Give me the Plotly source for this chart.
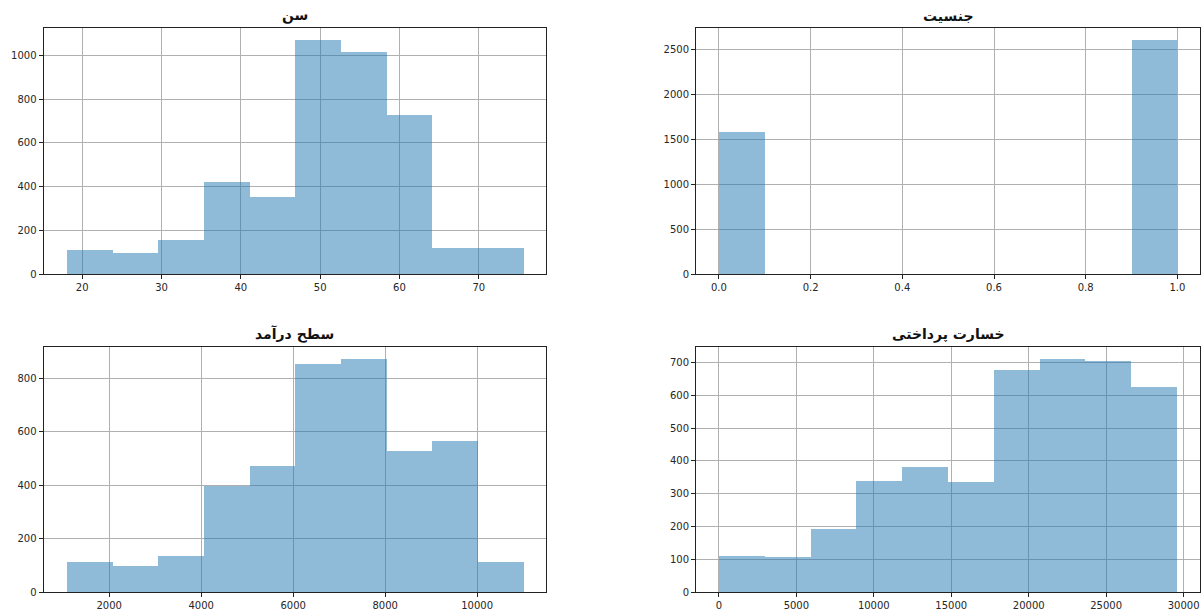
import numpy as np
import plotly.graph_objects as go

# ---- data ----
age_title = "سن"
age_counts = [110, 94, 152, 422, 353, 1071, 1015, 726, 119, 117]
age_min, age_max = 18.0, 75.6

gender_title = "جنسیت"
gender_counts = [1578, 0, 0, 0, 0, 0, 0, 0, 0, 2605]
gender_min, gender_max = 0.0, 1.0

income_title = "سطح درآمد"
income_counts = [114, 101, 136, 400, 474, 854, 874, 529, 567, 116]
income_min, income_max = 1070.0, 11000.0

loss_title = "خسارت پرداختی"
loss_counts = [111, 108, 195, 339, 381, 337, 677, 712, 704, 625]
loss_min, loss_max = 0.0, 29580.0

age_ticks = [20, 30, 40, 50, 60, 70]
age_yticks = [0, 200, 400, 600, 800, 1000]
gender_ticks = [0.0, 0.2, 0.4, 0.6, 0.8, 1.0]
gender_yticks = [0, 500, 1000, 1500, 2000, 2500]
income_ticks = [2000, 4000, 6000, 8000, 10000]
income_yticks = [0, 200, 400, 600, 800]
loss_ticks = [0, 5000, 10000, 15000, 20000, 25000, 30000]
loss_yticks = [0, 100, 200, 300, 400, 500, 600, 700]

W, H = 1201, 612
BAR = "rgba(31,119,180,0.5)"
FONT = "DejaVu Sans"

panels = [
    dict(title=age_title, counts=age_counts, lo=age_min, hi=age_max,
         xt=age_ticks, yt=age_yticks, xfmt="d",
         xd=(43.5, 546.0), yd=(28.3, 274.0)),
    dict(title=gender_title, counts=gender_counts, lo=gender_min, hi=gender_max,
         xt=gender_ticks, yt=gender_yticks, xfmt=".1f",
         xd=(696.0, 1200.3), yd=(28.3, 274.0)),
    dict(title=income_title, counts=income_counts, lo=income_min, hi=income_max,
         xt=income_ticks, yt=income_yticks, xfmt="d",
         xd=(43.5, 546.0), yd=(346.7, 592.3)),
    dict(title=loss_title, counts=loss_counts, lo=loss_min, hi=loss_max,
         xt=loss_ticks, yt=loss_yticks, xfmt="d",
         xd=(696.0, 1200.0), yd=(346.7, 592.3)),
]

fig = go.Figure()
annotations = []
for i, p in enumerate(panels, start=1):
    n = len(p["counts"])
    edges = np.linspace(p["lo"], p["hi"], n + 1)
    centers = (edges[:-1] + edges[1:]) / 2
    w = edges[1] - edges[0]
    xa = "x" if i == 1 else f"x{i}"
    ya = "y" if i == 1 else f"y{i}"
    fig.add_trace(go.Bar(x=centers, y=p["counts"], width=w,
                         marker=dict(color=BAR, line=dict(width=0)),
                         xaxis=xa, yaxis=ya, showlegend=False,
                         hoverinfo="x+y"))
    span = p["hi"] - p["lo"]
    ymax = max(p["counts"]) * 1.05
    axis_common = dict(showline=True, mirror=True, linecolor="#222222", linewidth=1,
                       ticks="outside", ticklen=4, tickcolor="#222222", tickwidth=1,
                       showgrid=True, gridcolor="#b0b0b0", gridwidth=0.8,
                       zeroline=False, automargin=False,
                       tickfont=dict(family=FONT, size=10, color="#262626"))
    xkey = "xaxis" if i == 1 else f"xaxis{i}"
    ykey = "yaxis" if i == 1 else f"yaxis{i}"
    fig.update_layout({
        xkey: dict(domain=[p["xd"][0] / W, p["xd"][1] / W],
                   range=[p["lo"] - 0.05 * span, p["hi"] + 0.05 * span],
                   tickvals=p["xt"], tickformat=p["xfmt"], anchor=ya,
                   **axis_common),
        ykey: dict(domain=[1 - p["yd"][1] / H, 1 - p["yd"][0] / H],
                   range=[0, ymax], tickvals=p["yt"], tickformat="d",
                   anchor=xa, **axis_common),
    })
    annotations.append(dict(text=f"<b>{p['title']}</b>", showarrow=False,
                            xref=f"{xa} domain", yref=f"{ya} domain",
                            x=0.5, y=1, xanchor="center", yanchor="bottom",
                            yshift=2,
                            font=dict(family=FONT, size=14, color="#111111")))

fig.update_layout(width=W, height=H, margin=dict(l=0, r=0, t=0, b=0),
                  paper_bgcolor="white", plot_bgcolor="white",
                  bargap=0, annotations=annotations, template="none")

fig.write_html("out.html",
               config={"displayModeBar": False},
               post_script="document.body.style.margin='0';"
                           "document.body.style.overflow='hidden';")
